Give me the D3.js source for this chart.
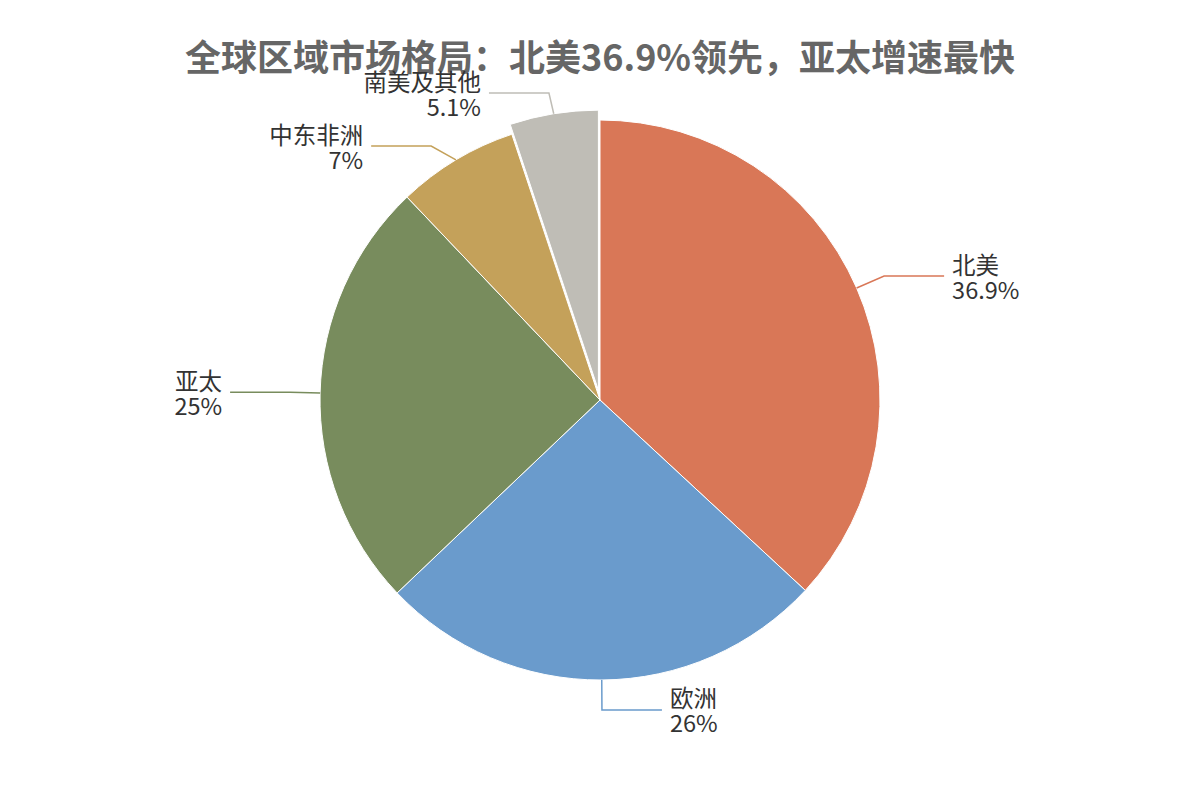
<!DOCTYPE html>
<html><head><meta charset="utf-8">
<script src="https://cdn.jsdelivr.net/npm/d3@7/dist/d3.min.js"></script>
<style>body{margin:0;background:#fff;}svg{display:block;}</style>
</head><body>
<svg id="chart" width="1200" height="800"></svg>
<script>
const title = "全球区域市场格局：北美36.9%领先，亚太增速最快";
const categories = ["北美", "欧洲", "亚太", "中东非洲", "南美及其他"];
const values = [36.9, 26, 25, 7, 5.1];
const valueLabels = ["36.9%", "26%", "25%", "7%", "5.1%"];
const colors = ["#d97757", "#6a9bcc", "#788c5d", "#c4a15a", "#bfbdb6"];
const exploded = [false, false, false, false, true];

const W = 1200, H = 800, cx = 600, cy = 400, R = 280;
const len1 = 30, len2 = 60, explode = 10, lineH = 25, minElbowY = 93 - cy;
const svg = d3.select("#chart");
const font = "'Noto Sans CJK SC','Noto Sans',sans-serif";

svg.append("text").attr("x", W/2).attr("y", 55)
  .attr("text-anchor", "middle").attr("dominant-baseline", "central")
  .attr("font-family", font).attr("font-weight", "bold").attr("font-size", 36)
  .attr("fill", "#666").text(title);

const data = categories.map((c,i)=>({name:c, value:values[i], label:valueLabels[i], color:colors[i], ex:exploded[i]}));
const pie = d3.pie().value(d=>d.value).sort(null);
const arcs = pie(data);
const arc = d3.arc().innerRadius(0).outerRadius(R);

const g = svg.append("g").attr("transform", `translate(${cx},${cy})`);
arcs.forEach(a => {
  const mid = (a.startAngle + a.endAngle)/2;
  a.mid = mid;
  a.off = a.data.ex ? [explode*Math.sin(mid), -explode*Math.cos(mid)] : [0,0];
  a.edge = [a.off[0] + R*Math.sin(mid), a.off[1] - R*Math.cos(mid)];
  a.elbow = [a.off[0] + (R+len1)*Math.sin(mid), a.off[1] - (R+len1)*Math.cos(mid)];
  a.right = Math.sin(mid) >= 0;
});

// simple overlap avoidance per side, keeping labels below the title area
["L","R"].forEach(side => {
  const list = arcs.filter(a => (side==="R") === a.right).sort((p,q)=>p.elbow[1]-q.elbow[1]);
  if (list.length && list[0].elbow[1] < minElbowY) list[0].elbow[1] = minElbowY;
  for (let i=1;i<list.length;i++){
    const minGap = lineH*2 + 3;
    if (list[i].elbow[1] - list[i-1].elbow[1] < minGap) {
      list[i].elbow[1] = list[i-1].elbow[1] + minGap;
      const rr = R + len1 - 5;
      const dy = list[i].elbow[1] - list[i].off[1];
      const dx = Math.sqrt(Math.max(0, rr*rr - dy*dy));
      list[i].elbow[0] = list[i].off[0] + (list[i].right ? dx : -dx);
    }
  }
});

g.selectAll("path.slice").data(arcs).join("path")
  .attr("class","slice")
  .attr("d", arc)
  .attr("transform", d=>`translate(${d.off[0]},${d.off[1]})`)
  .attr("fill", d=>d.data.color)
  .attr("stroke", "#fff").attr("stroke-width", 1);

arcs.forEach(a => {
  const endX = a.elbow[0] + (a.right ? len2 : -len2);
  g.append("polyline")
    .attr("points", [a.edge, a.elbow, [endX, a.elbow[1]]].map(p=>p.join(",")).join(" "))
    .attr("fill","none").attr("stroke", a.data.color).attr("stroke-width", 1.5);
  const tx = endX + (a.right ? 8 : -8);
  const t = g.append("text")
    .attr("text-anchor", a.right ? "start" : "end")
    .attr("font-family", font).attr("font-size", 23.5).attr("fill", "#333");
  t.append("tspan").attr("x", tx).attr("y", a.elbow[1] - lineH/2)
    .attr("dominant-baseline","central").text(a.data.name);
  t.append("tspan").attr("x", tx).attr("y", a.elbow[1] + lineH/2)
    .attr("dominant-baseline","central").text(a.data.label);
});
</script>
</body></html>
